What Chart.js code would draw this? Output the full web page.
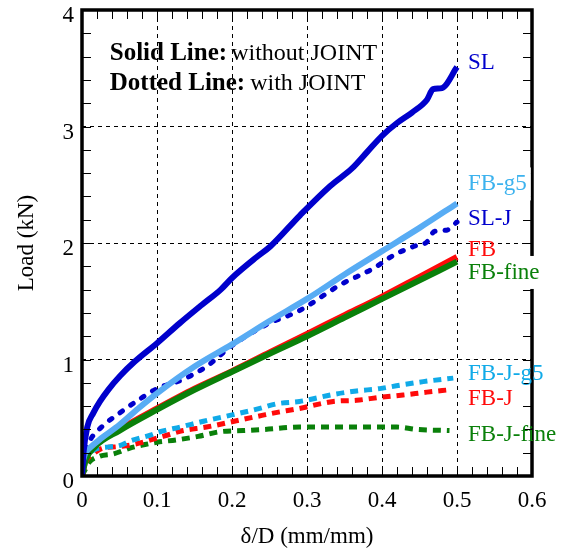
<!DOCTYPE html>
<html>
<head>
<meta charset="utf-8">
<script src="https://cdn.jsdelivr.net/npm/chart.js@4/dist/chart.umd.min.js"></script>
<style>
  html, body { margin: 0; padding: 0; background: #fff; }
  #wrap { width: 566px; height: 548px; }
</style>
</head>
<body>
<div id="wrap"><canvas id="chart"></canvas></div>
<script>
"use strict";

// values (x = delta/D, y = load in kN)
var slX = [0, 0.002, 0.007, 0.015, 0.024, 0.035, 0.051, 0.07, 0.1, 0.13, 0.16, 0.185, 0.2, 0.233, 0.251, 0.291, 0.331, 0.36, 0.38, 0.4, 0.42, 0.44, 0.46, 0.468, 0.48, 0.5];
var slY = [0, 0.2, 0.42, 0.54, 0.64, 0.74, 0.86, 0.98, 1.14, 1.31, 1.47, 1.6, 1.7, 1.88, 1.97, 2.24, 2.49, 2.64, 2.78, 2.92, 3.03, 3.12, 3.23, 3.32, 3.33, 3.51];

var slJX = [0, 0.004, 0.011, 0.026, 0.05, 0.077, 0.1, 0.135, 0.166, 0.2, 0.246, 0.29, 0.344, 0.388, 0.417, 0.442, 0.46, 0.47, 0.486, 0.5];
var slJY = [0, 0.2, 0.31, 0.42, 0.54, 0.66, 0.75, 0.83, 0.94, 1.12, 1.3, 1.42, 1.64, 1.78, 1.9, 1.97, 2.01, 2.1, 2.11, 2.18];

var fbG5X = [0, 0.004, 0.012, 0.025, 0.05, 0.075, 0.1, 0.15, 0.2, 0.25, 0.3, 0.35, 0.4, 0.45, 0.5];
var fbG5Y = [0.1, 0.19, 0.25, 0.32, 0.44, 0.58, 0.71, 0.94, 1.13, 1.33, 1.52, 1.73, 1.93, 2.13, 2.34];

var fbX = [0, 0.005, 0.017, 0.05, 0.1, 0.15, 0.2, 0.25, 0.3, 0.35, 0.4, 0.45, 0.5];
var fbY = [0, 0.15, 0.26, 0.4, 0.58, 0.75, 0.9, 1.06, 1.22, 1.38, 1.54, 1.71, 1.88];

var fbFineX = [0, 0.005, 0.017, 0.05, 0.1, 0.15, 0.2, 0.25, 0.3, 0.35, 0.4, 0.45, 0.5];
var fbFineY = [0, 0.14, 0.25, 0.39, 0.57, 0.74, 0.895, 1.05, 1.2, 1.36, 1.52, 1.68, 1.84];

var fbJG5X = [0, 0.004, 0.015, 0.037, 0.05, 0.064, 0.091, 0.104, 0.131, 0.162, 0.197, 0.237, 0.26, 0.29, 0.335, 0.366, 0.397, 0.424, 0.455, 0.495];
var fbJG5Y = [0, 0.14, 0.22, 0.25, 0.26, 0.3, 0.35, 0.38, 0.42, 0.47, 0.52, 0.58, 0.62, 0.64, 0.7, 0.73, 0.75, 0.78, 0.81, 0.84];

var fbJX = [0, 0.005, 0.015, 0.028, 0.045, 0.068, 0.108, 0.135, 0.166, 0.21, 0.24, 0.255, 0.29, 0.335, 0.366, 0.397, 0.428, 0.46, 0.49];
var fbJY = [0, 0.12, 0.19, 0.24, 0.25, 0.27, 0.34, 0.39, 0.42, 0.48, 0.52, 0.54, 0.58, 0.64, 0.65, 0.675, 0.695, 0.72, 0.74];

var fbJFineX = [0, 0.01, 0.024, 0.042, 0.064, 0.084, 0.1, 0.126, 0.155, 0.184, 0.215, 0.244, 0.29, 0.335, 0.384, 0.42, 0.446, 0.49];
var fbJFineY = [0, 0.12, 0.17, 0.19, 0.24, 0.27, 0.29, 0.31, 0.34, 0.38, 0.39, 0.4, 0.42, 0.42, 0.42, 0.42, 0.4, 0.39];

var xTicks = [0, 0.1, 0.2, 0.3, 0.4, 0.5, 0.6];
var yTicks = [0, 1, 2, 3, 4];

// series names as printed next to the curve ends, with the load where each name sits
var seriesNames = ['SL', 'FB-g5', 'SL-J', 'FB', 'FB-fine', 'FB-J-g5', 'FB-J', 'FB-J-fine'];
var nameLoads = [3.56, 2.52, 2.22, 1.96, 1.76, 0.89, 0.68, 0.365];

var SERIF = '"Liberation Serif", "Times New Roman", serif';
var DARK_BLUE = '#0000cc';
var RED = '#ff0a0a';
var GREEN = '#0a800a';

function toPoints(xs, ys) {
    return xs.map(function(x, i) {
        return { x: x, y: ys[i] };
    });
}

function lineSet(label, xs, ys, color, width, dash, cap, order) {
    return {
        label: label,
        data: toPoints(xs, ys),
        borderColor: color,
        borderWidth: width,
        borderDash: dash || [],
        borderCapStyle: cap || 'butt',
        borderJoinStyle: 'round',
        cubicInterpolationMode: 'monotone',
        pointRadius: 0,
        fill: false,
        order: order
    };
}

var nameStyles = {
    'SL': { color: DARK_BLUE },
    'FB-g5': { color: '#3cb2ee', box: true },
    'SL-J': { color: DARK_BLUE },
    'FB': { color: RED },
    'FB-fine': { color: GREEN, box: true },
    'FB-J-g5': { color: '#10aae8' },
    'FB-J': { color: RED },
    'FB-J-fine': { color: GREEN }
};

var framePlugin = {
    id: 'frame',
    afterDraw: function(chart) {
        var ctx = chart.ctx;
        var a = chart.chartArea;
        var xs = chart.scales.x;
        var ys = chart.scales.y;
        var i, p;
        ctx.save();
        // minor inward ticks on all four sides
        ctx.strokeStyle = '#000';
        ctx.lineWidth = 1;
        ctx.beginPath();
        for (i = 1; i < 30; i++) {
            p = Math.round(xs.getPixelForValue(i * 0.02)) + 0.5;
            ctx.moveTo(p, a.bottom); ctx.lineTo(p, a.bottom - 9);
            ctx.moveTo(p, a.top); ctx.lineTo(p, a.top + 9);
        }
        for (i = 1; i < 20; i++) {
            p = Math.round(ys.getPixelForValue(i * 0.2)) + 0.5;
            ctx.moveTo(a.left, p); ctx.lineTo(a.left + 9, p);
            ctx.moveTo(a.right, p); ctx.lineTo(a.right - 9, p);
        }
        ctx.stroke();
        // heavy frame
        ctx.lineWidth = 3.5;
        ctx.strokeRect(a.left, a.top, a.right - a.left, a.bottom - a.top);

        // line style note
        ctx.fillStyle = '#000';
        ctx.textBaseline = 'alphabetic';
        ctx.textAlign = 'left';
        var tx = xs.getPixelForValue(0.037);
        ctx.font = 'bold 25px ' + SERIF;
        ctx.fillText('Solid Line:', tx, 60);
        var w1 = ctx.measureText('Solid Line:').width;
        ctx.fillText('Dotted Line:', tx, 90);
        var w2 = ctx.measureText('Dotted Line:').width;
        ctx.font = '24px ' + SERIF;
        ctx.fillText('without JOINT', tx + w1 + 4, 60);
        ctx.fillText('with JOINT', tx + w2 + 5, 90);

        // curve names at the right
        ctx.font = '23px ' + SERIF;
        var nx = xs.getPixelForValue(0.5) + 11;
        seriesNames.forEach(function(name, k) {
            var st = nameStyles[name];
            var cy = ys.getPixelForValue(nameLoads[k]);
            var w = ctx.measureText(name).width;
            if (st.box) {
                ctx.fillStyle = '#fff';
                ctx.fillRect(nx - 2, cy - 15, w + 6, 33);
            }
            ctx.fillStyle = st.color;
            ctx.fillText(name, nx, cy + 8);
        });
        ctx.restore();
    }
};

var datasets = [
    lineSet('FB-J-fine', fbJFineX, fbJFineY, GREEN, 5, [8, 6], 'butt', 8),
    lineSet('FB-J', fbJX, fbJY, RED, 5, [8, 6], 'butt', 7),
    lineSet('FB-J-g5', fbJG5X, fbJG5Y, '#10aae8', 5, [8, 6], 'butt', 6),
    lineSet('FB', fbX, fbY, RED, 6, null, null, 5),
    lineSet('FB-fine', fbFineX, fbFineY, GREEN, 6, null, null, 4),
    lineSet('SL-J', slJX, slJY, DARK_BLUE, 5, [3, 10], 'round', 3),
    lineSet('FB-g5', fbG5X, fbG5Y, '#58acf4', 6, null, null, 2),
    lineSet('SL', slX, slY, DARK_BLUE, 6, null, null, 1)
];

function fixBox(width, height) {
    return function(scale) {
        if (width) scale.width = width;
        if (height) scale.height = height;
        scale.paddingTop = 0;
        scale.paddingBottom = 0;
        scale.paddingLeft = 0;
        scale.paddingRight = 0;
    };
}

var chart = new Chart(document.getElementById('chart'), {
    type: 'line',
    data: { datasets: datasets },
    options: {
        responsive: true,
        maintainAspectRatio: false,
        animation: false,
        events: [],
        layout: { padding: { top: 10, right: 34, left: 0, bottom: 0 } },
        plugins: {
            legend: { display: false },
            tooltip: { enabled: false }
        },
        scales: {
            x: {
                type: 'linear',
                min: xTicks[0],
                max: xTicks[xTicks.length - 1],
                afterFit: fixBox(null, 72),
                afterBuildTicks: function(scale) {
                    scale.ticks = xTicks.map(function(v) { return { value: v }; });
                },
                ticks: {
                    color: '#000',
                    padding: 11,
                    maxRotation: 0,
                    font: { family: SERIF, size: 23 },
                    callback: function(v) { return v === 0 ? '0' : v.toFixed(1); }
                },
                grid: { color: '#000', lineWidth: 1, drawTicks: false },
                border: { display: false, dash: [4, 4] },
                title: {
                    display: true,
                    text: 'δ/D (mm/mm)',
                    color: '#000',
                    font: { family: SERIF, size: 23, lineHeight: 1 },
                    padding: { top: 0, bottom: 0 }
                }
            },
            y: {
                type: 'linear',
                min: yTicks[0],
                max: yTicks[yTicks.length - 1],
                afterFit: fixBox(82, null),
                afterBuildTicks: function(scale) {
                    scale.ticks = yTicks.map(function(v) { return { value: v }; });
                },
                ticks: {
                    color: '#000',
                    padding: 8,
                    labelOffset: 6,
                    font: { family: SERIF, size: 23 },
                    callback: function(v) { return String(v); }
                },
                grid: { color: '#000', lineWidth: 1, drawTicks: false },
                border: { display: false, dash: [4, 4] },
                title: {
                    display: true,
                    text: 'Load (kN)',
                    color: '#000',
                    font: { family: SERIF, size: 23, lineHeight: 1 },
                    padding: { top: 15, bottom: 0 }
                }
            }
        }
    },
    plugins: [framePlugin]
});
</script>
</body>
</html>
